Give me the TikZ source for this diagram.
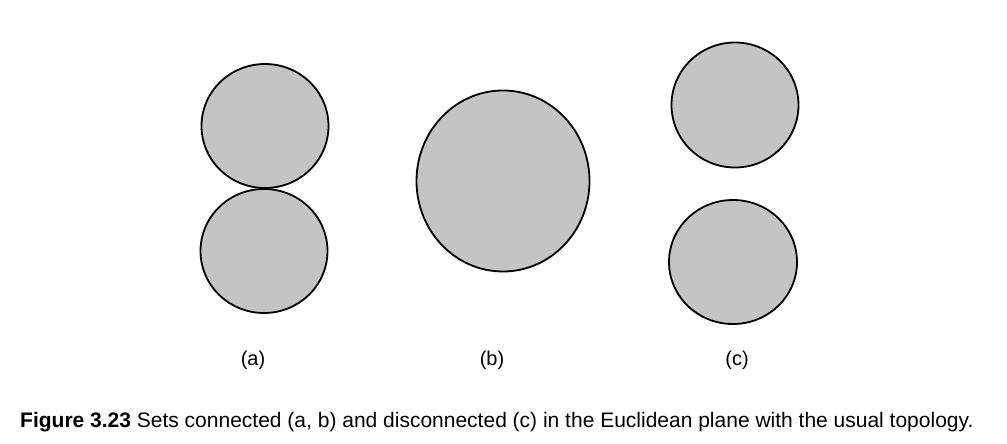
\documentclass[tikz,border=0pt]{standalone}
\usepackage{fontspec}
\setmainfont{Liberation Sans}
\begin{document}
\begin{tikzpicture}[x=1pt,y=-1pt,
  blob/.style={draw=black,line width=1.8pt,fill=black!23},
  lbl/.style={font=\fontsize{20}{22}\selectfont,inner sep=0pt,anchor=base},
  captext/.style={font=\fontsize{21}{24}\selectfont,inner sep=0pt,anchor=base west}]
\useasboundingbox (0,0) rectangle (1007,444);
\fill[white] (0,0) rectangle (1007,444);
\draw[blob] (265,126) ellipse [x radius=63.5, y radius=62];
\draw[blob] (264,251) ellipse [x radius=63.5, y radius=62];
\draw[blob] (503,181) ellipse [x radius=86.5, y radius=90.5];
\draw[blob] (735,105) ellipse [x radius=63.5, y radius=62.5];
\draw[blob] (733,262) ellipse [x radius=64, y radius=62];
\node[lbl] (la) at (253,365) {(a)};
\node[lbl] (lb) at (492,365) {(b)};
\node[lbl] (lc) at (737,365) {(c)};
\node[captext] (caption) at (20,427) {\textbf{Figure 3.23} Sets connected (a, b) and disconnected (c) in the Euclidean plane with the usual topology.};
\end{tikzpicture}
\end{document}
